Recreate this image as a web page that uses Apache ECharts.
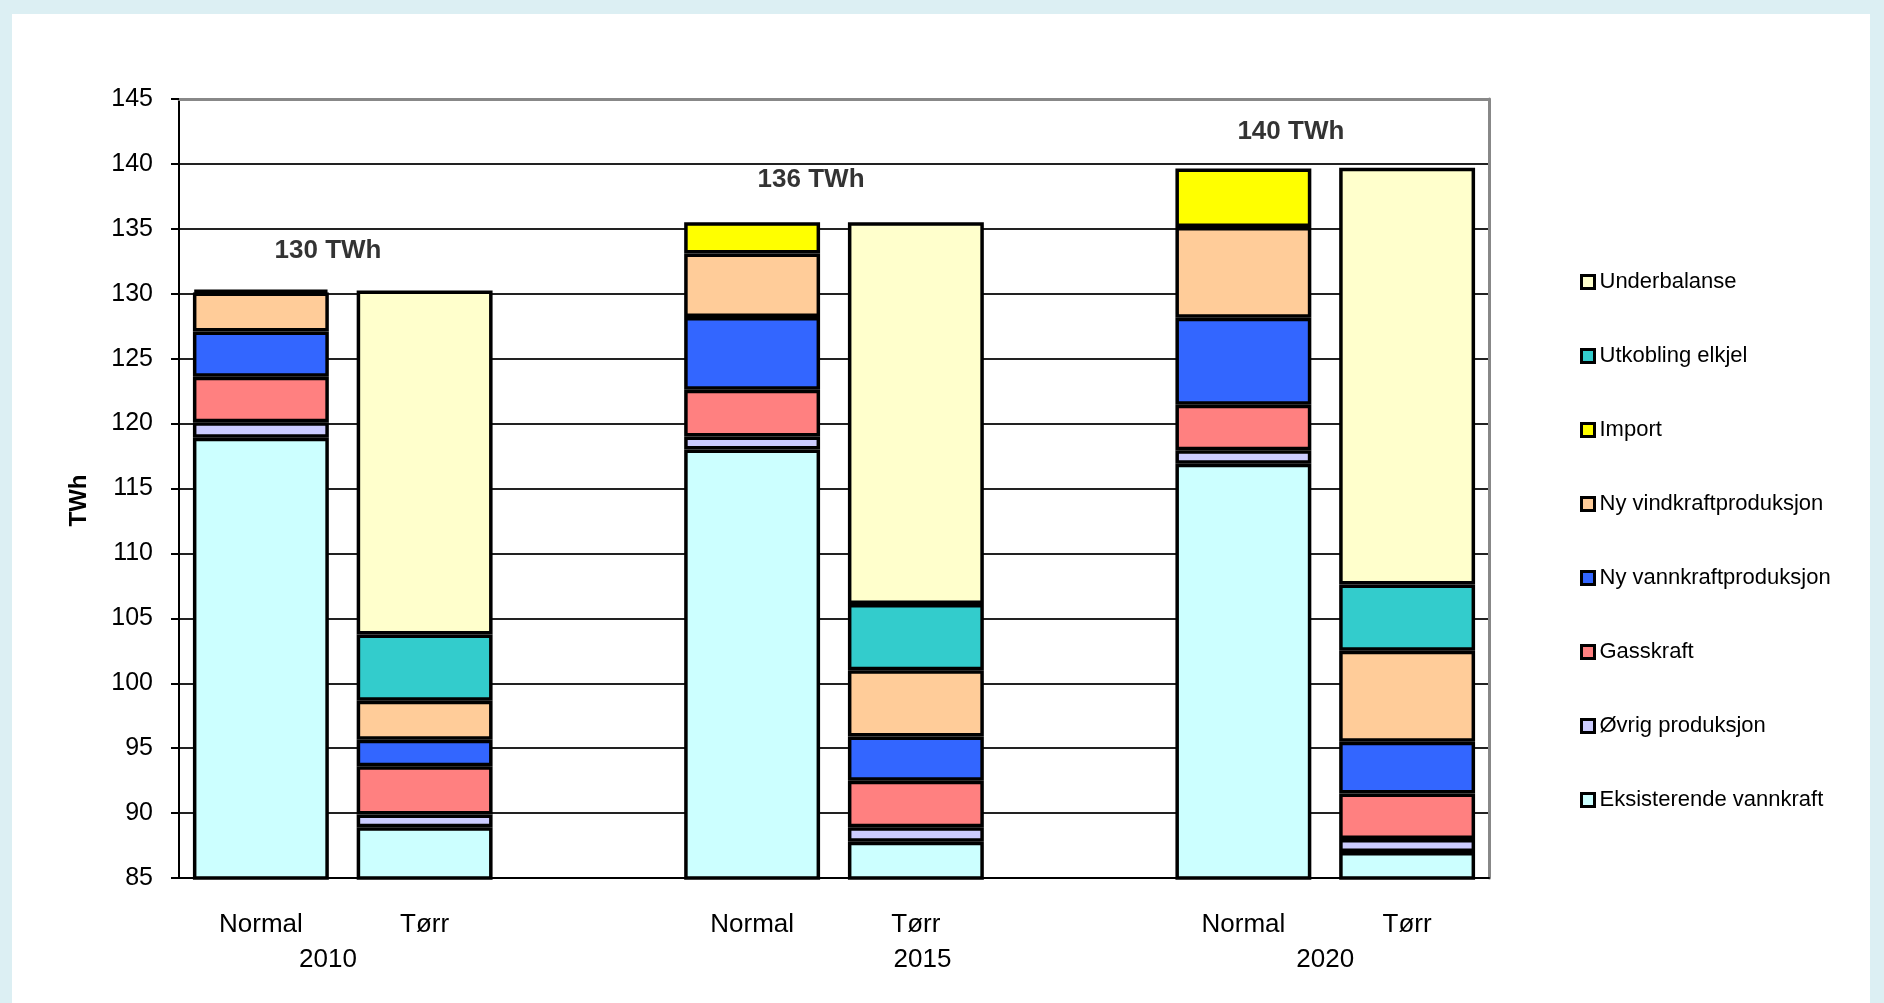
<!DOCTYPE html>
<html>
<head>
<meta charset="utf-8">
<script src="https://cdn.jsdelivr.net/npm/echarts@6/dist/echarts.min.js"></script>
<style>
    html, body { margin: 0; padding: 0; width: 1884px; height: 1003px; overflow: hidden; background: #dceff3; }
    #frame { position: absolute; left: 12px; top: 14px; right: 14px; bottom: 0; background: #fff; }
    #chart_1 { position: absolute; left: 0; top: 0; width: 1884px; height: 1003px; }
</style>
</head>
<body>
<div id="frame"></div>
<div id="chart_1"></div>
<script>
// kategorier (tomme plasser mellom årene)
var categories = ['Normal', 'Tørr', '', 'Normal', 'Tørr', '', 'Normal', 'Tørr'];
var years = ['2010', '2015', '2020'];
var totals = ['130 TWh', '136 TWh', '140 TWh'];

// TWh per kilde, lest av figuren
var eksisterende = [118.9, 88.9, '-', 118.0, 87.8, '-', 116.9, 87.0];
var ovrig        = [1.2, 1.0, '-', 1.0, 1.1, '-', 1.05, 1.0];
var gasskraft    = [3.5, 3.7, '-', 3.6, 3.6, '-', 3.5, 3.5];
var nyVann       = [3.5, 2.05, '-', 5.6, 3.4, '-', 6.7, 4.0];
var nyVind       = [3.0, 3.0, '-', 4.9, 5.1, '-', 7.0, 7.0];
var importData   = [0.2, '-', '-', 2.4, '-', '-', 4.5, '-'];
var utkobling    = ['-', 5.1, '-', '-', 5.1, '-', '-', 5.1];
var underbalanse = ['-', 26.5, '-', '-', 29.4, '-', '-', 32.1];

var font = 'Liberation Sans, Arial, sans-serif';

var stackDefs = [
    {name: 'Eksisterende vannkraft', data: eksisterende, color: '#ccffff'},
    {name: 'Øvrig produksjon', data: ovrig, color: '#ccccff'},
    {name: 'Gasskraft', data: gasskraft, color: '#ff8080'},
    {name: 'Ny vannkraftproduksjon', data: nyVann, color: '#3366ff'},
    {name: 'Ny vindkraftproduksjon', data: nyVind, color: '#ffcc99'},
    {name: 'Import', data: importData, color: '#ffff00'},
    {name: 'Utkobling elkjel', data: utkobling, color: '#33cccc'},
    {name: 'Underbalanse', data: underbalanse, color: '#ffffcc'}
];

var series = [];
var legendNames = [];
for (var i = 0; i < stackDefs.length; i++) {
    var d = stackDefs[i];
    legendNames.unshift(d.name);
    series.push({
        name: d.name,
        type: 'bar',
        stack: 'total',
        barWidth: '83%',
        data: d.data,
        itemStyle: {color: d.color, borderColor: '#000', borderWidth: 3.5},
        emphasis: {disabled: true}
    });
}

// plassering av sumtekstene (x i kategori-enheter, y i TWh)
var totalPos = [[0.91, 133.3], [3.86, 138.8], [6.79, 142.5]];
var yearPos = [0.91, 4.54, 7.0];

series.push({
    name: 'sum',
    type: 'scatter',
    xAxisIndex: 1,
    symbolSize: 0,
    silent: true,
    data: totalPos,
    label: {
        show: true,
        position: 'inside',
        formatter: function (p) { return totals[p.dataIndex]; },
        color: '#000',
        fontFamily: font,
        fontSize: 26,
        fontWeight: 'bold'
    },
    z: 10
});

var myChart = echarts.init(document.getElementById('chart_1'));
var option = {
    animation: false,
    backgroundColor: 'transparent',
    grid: {left: 179, right: 395, top: 99, bottom: 125},
    legend: {
        data: legendNames,
        orient: 'vertical',
        left: 1575,
        top: 266,
        itemWidth: 13,
        itemHeight: 13,
        itemGap: 52,
        icon: 'rect',
        itemStyle: {borderColor: '#000', borderWidth: 3},
        textStyle: {color: '#000', fontFamily: font, fontSize: 22, lineHeight: 22},
        selectedMode: false
    },
    xAxis: [
        {
            type: 'category',
            data: categories,
            axisLine: {lineStyle: {color: '#000', width: 2}},
            axisTick: {length: 9, lineStyle: {color: '#000', width: 2}},
            axisLabel: {interval: 0, color: '#000', fontFamily: font, fontSize: 26, margin: 34}
        },
        {
            type: 'value',
            min: 0,
            max: 8,
            position: 'bottom',
            offset: 61,
            axisLine: {show: false},
            axisTick: {show: false},
            splitLine: {show: false},
            axisLabel: {
                customValues: yearPos,
                formatter: function (v) {
                    var k = yearPos.indexOf(v);
                    return k >= 0 ? years[k] : '';
                },
                color: '#000', fontFamily: font, fontSize: 26, margin: 8
            }
        },
        {
            type: 'category',
            data: categories,
            position: 'top',
            axisLine: {lineStyle: {color: '#888', width: 3}},
            axisTick: {show: false},
            axisLabel: {show: false}
        }
    ],
    yAxis: [
        {
            type: 'value',
            min: 85,
            max: 145,
            interval: 5,
            name: 'TWh',
            nameLocation: 'middle',
            nameGap: 88,
            nameRotate: 90,
            nameTextStyle: {color: '#000', fontFamily: font, fontSize: 24, fontWeight: 'bold', padding: [0, 24, 0, 0]},
            axisLine: {show: true, lineStyle: {color: '#000', width: 2}},
            axisTick: {show: true, length: 8, lineStyle: {color: '#000', width: 2}},
            axisLabel: {color: '#000', fontFamily: font, fontSize: 25, margin: 26},
            splitLine: {show: true, showMaxLine: false, showMinLine: false, lineStyle: {color: '#222', width: 2}}
        },
        {
            type: 'value',
            min: 85,
            max: 145,
            position: 'right',
            axisLine: {show: true, lineStyle: {color: '#888', width: 3}},
            axisTick: {show: false},
            axisLabel: {show: false},
            splitLine: {show: false}
        }
    ],
    series: series
};

myChart.setOption(option);
</script>
</body>
</html>
